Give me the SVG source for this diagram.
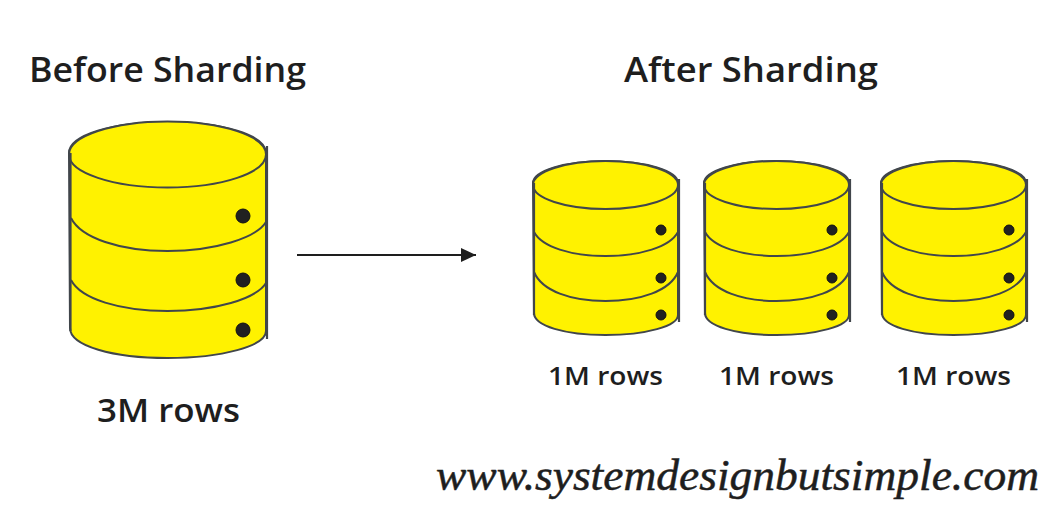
<svg xmlns="http://www.w3.org/2000/svg" width="1058" height="512" viewBox="0 0 1058 512">
<style>
.body{fill:#fff200;stroke:#41464b;stroke-width:2}
.edge{fill:none;stroke:#41464b;stroke-width:2}
.side{fill:none;stroke:#41464b;stroke-width:2.200}
.dot{fill:#212121;stroke:#111;stroke-width:1}
.t{font-family:"Open Sans","Liberation Sans",sans-serif;font-weight:600;fill:#1e1e1e}
.h{font-size:34px}
.s{font-size:26px}
.b{font-size:32px}
.u{font-family:"Liberation Serif",serif;font-style:italic;font-size:44px;fill:#1e1e1e;stroke:#1e1e1e;stroke-width:.5}
</style>
<defs>
<g id="smallDb">
<path class="body" d="M533 183C533 171 565 161 605.500 161C646 161 678 171 678 183V315C678 326 646 335 605.500 335C565 335 534 326 534 313Z"/>
<ellipse class="body" cx="605.500" cy="185" rx="72.500" ry="24"/>
<path class="edge" d="M534 232C542 247 571 256 605.500 256C640 256 670 247 678 232"/>
<path class="edge" d="M534 272C542 291 571 301 605.500 301C640 301 670 291 678 272"/>
<path class="side" d="M534 183V315M679 179V322"/>
<circle class="dot" cx="661" cy="230" r="5"/>
<circle class="dot" cx="661" cy="278" r="5"/>
<circle class="dot" cx="661" cy="315" r="5"/>
</g>
<marker id="ah" markerUnits="userSpaceOnUse" markerWidth="16" markerHeight="14" refX="15" refY="7" orient="auto"><path d="M0 0L15 7L0 14Z" fill="#1e1e1e"/></marker>
</defs>
<g id="title-before"><text class="t h" x="29" y="82" textLength="277" lengthAdjust="spacingAndGlyphs">Before Sharding</text></g>
<g id="title-after"><text class="t h" x="624" y="82" textLength="254" lengthAdjust="spacingAndGlyphs">After Sharding</text></g>
<g id="db-before">
<path class="body" d="M69 153C69 135 113 122 167.500 122C222 122 266 135 266 153V331C266 346 222 358 167.500 358C113 358 70 346 70 328Z"/>
<ellipse class="body" cx="167.500" cy="154.500" rx="98.500" ry="33"/>
<path class="edge" d="M71 218C81 238 120 251 167.500 251C215 251 256 238 266 222"/>
<path class="edge" d="M71 280C81 299 120 311 167.500 311C215 311 256 299 266 283"/>
<path class="side" d="M70.500 153V331M267 146V339"/>
<circle class="dot" cx="243" cy="216" r="7"/>
<circle class="dot" cx="243" cy="280" r="7"/>
<circle class="dot" cx="243" cy="330" r="7"/>
<text class="t b" x="97" y="422" textLength="143" lengthAdjust="spacingAndGlyphs">3M rows</text>
</g>
<g id="connectors"><line x1="297" y1="255" x2="476" y2="255" stroke="#1e1e1e" stroke-width="1.800" marker-end="url(#ah)"/></g>
<g id="db-1"><use href="#smallDb"/><text class="t s" x="548" y="385" textLength="115" lengthAdjust="spacingAndGlyphs">1M rows</text></g>
<g id="db-2"><use href="#smallDb" x="171"/><text class="t s" x="719" y="385" textLength="115" lengthAdjust="spacingAndGlyphs">1M rows</text></g>
<g id="db-3"><use href="#smallDb" x="348"/><text class="t s" x="896" y="385" textLength="115" lengthAdjust="spacingAndGlyphs">1M rows</text></g>
<g id="website"><text class="u" x="436" y="490" textLength="603" lengthAdjust="spacingAndGlyphs">www.systemdesignbutsimple.com</text></g>
</svg>
